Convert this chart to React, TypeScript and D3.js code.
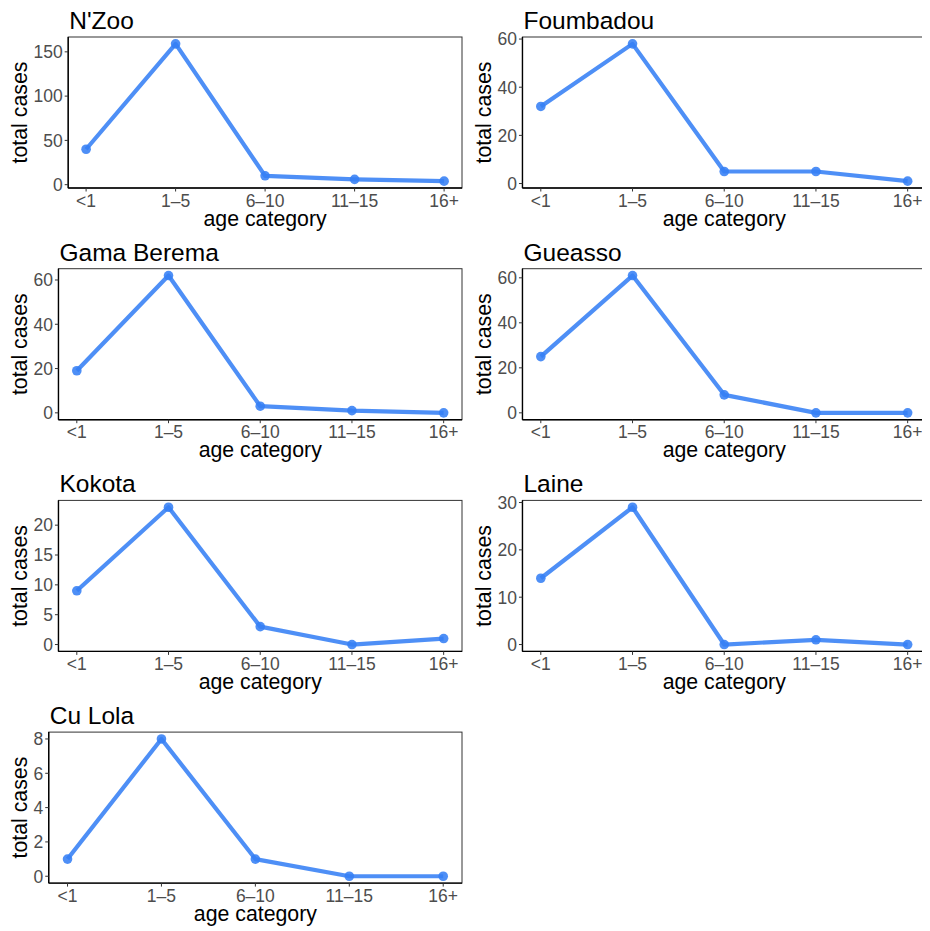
import * as d3 from "d3";

const ageCats = ["<1", "1\u20135", "6\u201310", "11\u201315", "16+"];

const nzoo = [40, 159, 10, 6, 4];
const foumbadou = [32, 58, 5, 5, 1];
const gamaBerema = [19, 62, 3, 1, 0];
const gueasso = [25, 61, 8, 0, 0];
const kokota = [9, 23, 3, 0, 1];
const laine = [14, 29, 0, 1, 0];
const cuLola = [1, 8, 1, 0, 0];

const villages = ["N'Zoo", "Foumbadou", "Gama Berema", "Gueasso", "Kokota", "Laine", "Cu Lola"];
const seriesList = [nzoo, foumbadou, gamaBerema, gueasso, kokota, laine, cuLola];
const yTicks = [
  [0, 50, 100, 150],
  [0, 20, 40, 60],
  [0, 20, 40, 60],
  [0, 20, 40, 60],
  [0, 5, 10, 15, 20],
  [0, 10, 20, 30],
  [0, 2, 4, 6, 8],
];

// svg sits inside the default 8px body margin
const W = 922;
const H = 923;
const colW = 464;
const rowH = 231.7;
const font = "'Liberation Sans', Arial, Helvetica, sans-serif";
const tickSize = 17.5;
const lineColor = "#3580f5";

function textWidth(s: string, size: number) {
  const c = document.createElement("canvas").getContext("2d");
  if (!c) return s.length * size * 0.556;
  c.font = `${size}px ${font}`;
  return c.measureText(s).width;
}

function Panel({ title, values, ticks, ox, oy }: any) {
  const labelW = d3.max(ticks, (t: number) => textWidth(String(t), tickSize)) as number;
  const left = ox + 33 + labelW + 6 - 8;
  const right = ox + 462 - 8;
  const top = oy + 37 - 8;
  const bottom = oy + 188 - 8;

  const [lo, hi] = d3.extent(values) as [number, number];
  const pad = (hi - lo) * 0.05;
  const x = d3.scaleLinear().domain([-0.2, ageCats.length - 1 + 0.2]).range([left, right]);
  const y = d3.scaleLinear().domain([lo - pad, hi + pad]).range([bottom, top]);
  const line = d3.line<number>().x((_, i) => x(i)).y((d) => y(d));

  return (
    <g fontFamily={font}>
      <text x={left + 1} y={top - 8} fontSize={24.5} fill="#000">{title}</text>
      <rect x={left} y={top} width={right - left} height={bottom - top} fill="none" stroke="#333" strokeWidth={1} />
      <line x1={left} x2={right} y1={bottom} y2={bottom} stroke="#000" strokeWidth={1.4} />
      <line x1={left} x2={left} y1={top} y2={bottom} stroke="#000" strokeWidth={1.4} />
      {ticks.map((t: number) => (
        <g key={t}>
          <line x1={left - 3.5} x2={left} y1={y(t)} y2={y(t)} stroke="#333" strokeWidth={1} />
          <text x={left - 5.5} y={y(t)} dy="0.36em" textAnchor="end" fontSize={tickSize} fill="#4d4d4d">{t}</text>
        </g>
      ))}
      {ageCats.map((c, i) => (
        <g key={c}>
          <line x1={x(i)} x2={x(i)} y1={bottom} y2={bottom + 3.5} stroke="#333" strokeWidth={1} />
          <text x={x(i)} y={bottom + 18.5} textAnchor="middle" fontSize={tickSize} fill="#4d4d4d">{c}</text>
        </g>
      ))}
      <text x={(left + right) / 2} y={bottom + 37.5} textAnchor="middle" fontSize={21.3} fill="#000">age category</text>
      <text transform={`translate(${ox + 27 - 8},${(top + bottom) / 2}) rotate(-90)`} textAnchor="middle" fontSize={21.3} fill="#000">total cases</text>
      <path d={line(values) ?? ""} fill="none" stroke={lineColor} strokeOpacity={0.88} strokeWidth={4.2} strokeLinejoin="round" />
      {values.map((v: number, i: number) => (
        <circle key={i} cx={x(i)} cy={y(v)} r={4.8} fill={lineColor} fillOpacity={0.88} />
      ))}
    </g>
  );
}

export default function App() {
  return (
    <svg width={W} height={H} style={{ display: "block" }}>
      <rect width={W} height={H} fill="#fff" />
      {villages.map((v, i) => (
        <Panel
          key={v}
          title={v}
          values={seriesList[i]}
          ticks={yTicks[i]}
          ox={(i % 2) * colW}
          oy={Math.floor(i / 2) * rowH}
        />
      ))}
    </svg>
  );
}
